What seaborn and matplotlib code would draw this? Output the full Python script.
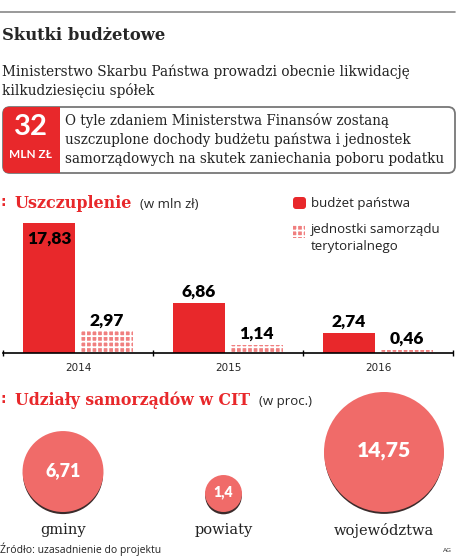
import pandas as pd
import seaborn as sns
import numpy as np
import matplotlib.pyplot as plt
from matplotlib.patches import FancyBboxPatch

# dane
lata = ["2014", "2015", "2016"]
budzet_panstwa = [17.83, 6.86, 2.74]
jst = [2.97, 1.14, 0.46]
seria = ["budżet państwa", "jednostki samorządu\nterytorialnego"]

cit_kat = ["gminy", "powiaty", "województwa"]
cit_proc = [6.71, 1.4, 14.75]

RED = "#e8282b"
BUBBLE = "#f06b69"
W, H = 464, 558

sns.set_theme(style="white")
plt.rcParams["font.family"] = ["DejaVu Sans"]
plt.rcParams["hatch.linewidth"] = 1.3

fig = plt.figure(figsize=(W / 100, H / 100), dpi=100)

# tlo w pikselach
bg = fig.add_axes([0, 0, 1, 1])
bg.set_xlim(0, W)
bg.set_ylim(H, 0)
bg.axis("off")

bg.plot([0, 455], [12, 12], color="#888888", lw=1.2)
bg.text(2, 36, "Skutki budżetowe", family="DejaVu Serif", fontweight="bold",
        fontsize=11.8, va="center", ha="left")
bg.text(2, 72, "Ministerstwo Skarbu Państwa prowadzi obecnie likwidację",
        family="DejaVu Serif", fontsize=9.8, va="center", color="#222222")
bg.text(2, 90, "kilkudziesięciu spółek",
        family="DejaVu Serif", fontsize=9.8, va="center", color="#222222")

# ramka z kwota
bg.add_patch(FancyBboxPatch((3, 107), 452, 66, boxstyle="round,pad=0,rounding_size=7",
                            fc="white", ec="#777777", lw=1.3))
bg.add_patch(FancyBboxPatch((3, 107), 57, 66, boxstyle="round,pad=0,rounding_size=6",
                            fc=RED, ec="none"))
bg.add_patch(plt.Rectangle((45, 107), 15, 66, fc=RED, ec="none"))
bg.text(31, 127, "32", family="Lato", fontweight="bold", fontsize=21,
        color="white", ha="center", va="center")
bg.text(31, 154, "MLN ZŁ", family="Lato", fontweight="bold", fontsize=8.5,
        color="white", ha="center", va="center")
box_txt = ["O tyle zdaniem Ministerstwa Finansów zostaną",
           "uszczuplone dochody budżetu państwa i jednostek",
           "samorządowych na skutek zaniechania poboru podatku"]
for i, line in enumerate(box_txt):
    bg.text(65, 120 + i * 19.5, line, family="DejaVu Serif", fontsize=9.75,
            va="center", color="#222222")

# naglowek wykresu slupkowego
bg.text(1, 202, ":", color=RED, fontweight="bold", fontsize=10, va="center")
bg.text(15, 203, "Uszczuplenie", family="DejaVu Serif", fontweight="bold",
        fontsize=11.5, color=RED, va="center")
bg.text(140, 204, "(w mln zł)", family="Open Sans", fontsize=9.5, va="center")

# legenda
bg.add_patch(FancyBboxPatch((293, 197), 13, 12, boxstyle="round,pad=0,rounding_size=3",
                            fc=RED, ec="none"))
bg.text(311, 203, seria[0], family="Open Sans", fontsize=9.5, va="center", color="#222222")
bg.add_patch(plt.Rectangle((293, 225), 12, 13, fc="#f07f7f", ec="white",
                           hatch="+++", lw=0))
bg.text(311, 238, seria[1], family="Open Sans", fontsize=9.5, va="center",
        color="#222222", linespacing=1.35)

# wykres slupkowy
df = pd.DataFrame({
    "rok": lata * 2,
    "wartosc": budzet_panstwa + jst,
    "seria": [seria[0]] * 3 + [seria[1]] * 3,
})
ax = fig.add_axes([3 / W, (H - 353) / H, 450 / W, 140 / H])
sns.barplot(data=df, x="rok", y="wartosc", hue="seria", palette=[RED, "#f07f7f"],
            width=0.77, gap=0.09, saturation=1, legend=False, ax=ax)
ymax = 17.83 * 140 / 130
ax.set_ylim(0, ymax)
ax.set_xlim(-0.5, 2.5)
for p in ax.containers[1]:
    p.set_hatch("+++")
    p.set_edgecolor("white")
    p.set_linewidth(0)
for p in ax.containers[0]:
    p.set_linewidth(0)
for cont in ax.containers:
    for p in cont:
        h = p.get_height()
        inside = h > 0.8 * ymax
        ax.annotate(f"{h:g}".replace(".", ","),
                    (p.get_x() + p.get_width() / 2, h),
                    xytext=(0, -11 if inside else 8), textcoords="offset points",
                    ha="center", va="center", family="Lato", fontweight="heavy",
                    fontsize=12.5, color="black")
sns.despine(ax=ax, left=True, top=True, right=True)
ax.spines["bottom"].set_color("black")
ax.spines["bottom"].set_linewidth(1.2)
ax.set_yticks([])
ax.set_xlabel(None)
ax.set_ylabel(None)
ax.set_xticks([-0.5, 0.5, 1.5, 2.5], minor=True)
ax.tick_params(axis="x", which="minor", direction="inout", length=5, width=1,
               color="black", bottom=True)
ax.tick_params(axis="x", which="major", length=0, labelsize=7.5, pad=7)
ax.patch.set_alpha(0)

# naglowek babelkow
bg.text(1, 399, ":", color=RED, fontweight="bold", fontsize=10, va="center")
bg.text(15, 400, "Udziały samorządów w CIT", family="DejaVu Serif", fontweight="bold",
        fontsize=11.3, color=RED, va="center")
bg.text(259, 401, "(w proc.)", family="Open Sans", fontsize=9.5, va="center")

# babelki (pole proporcjonalne do wartosci)
ax2 = fig.add_axes([0, 0, 1, 178 / H])
vmax = max(cit_proc)
rmax = 60.0
df_cit = pd.DataFrame({"kat": cit_kat, "val": cit_proc})
df_cit["r"] = rmax * np.sqrt(df_cit["val"] / vmax)
base = H - 512
df_cit["yc"] = base + df_cit["r"]
df_cit["ys"] = df_cit["yc"] - 2.5
smax = (2 * rmax * 72 / 100) ** 2
sns.scatterplot(data=df_cit, x="kat", y="ys", size="val", sizes=(0, smax * 0.98),
                size_norm=(0, vmax), color="#3b2b2b", linewidth=0, legend=False, ax=ax2)
sns.scatterplot(data=df_cit, x="kat", y="yc", size="val", sizes=(0, smax),
                size_norm=(0, vmax), color=BUBBLE, linewidth=0, alpha=1,
                legend=False, ax=ax2)
for i, row in df_cit.iterrows():
    ax2.text(i, row["yc"] + 1, f"{row['val']:g}".replace(".", ","), color="white",
             family="Lato", fontweight="heavy", fontsize=8 + 0.12 * row["r"],
             ha="center", va="center")
    ax2.text(i, H - 530, row["kat"], family="DejaVu Serif", fontsize=10.5,
             ha="center", va="center", color="#222222")
ax2.set_xlim(-63 / 160.5, (W - 63) / 160.5)
ax2.set_ylim(0, 178)
ax2.axis("off")

bg.text(0, 549, "Źródło: uzasadnienie do projektu", family="Open Sans", fontsize=7.5,
        va="center", color="#222222")
bg.text(447, 550, "AG", fontsize=4.5, va="center", ha="center", color="#333333")

plt.savefig("out.png", dpi=100)
